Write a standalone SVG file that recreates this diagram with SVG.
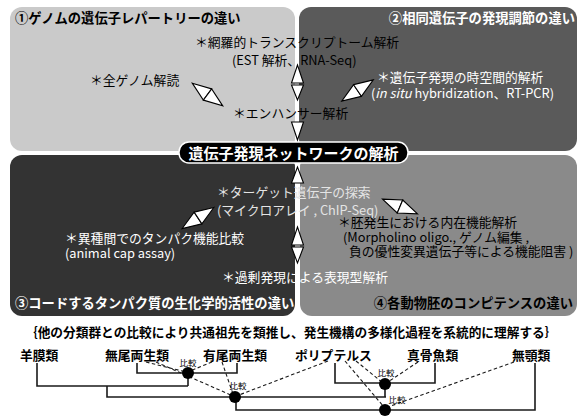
<svg xmlns="http://www.w3.org/2000/svg" width="582" height="416" viewBox="0 0 582 416">
<style>
.t{font-family:"Noto Sans CJK JP","Noto Sans",sans-serif;font-size:12.8px}
.b{font-weight:bold;font-size:13.3px}
.w{fill:#ffffff}
.lt{fill:#e4e4e4}
.k{fill:#000000}
.tri{fill:#ffffff;stroke:#000000;stroke-width:1.1;stroke-linejoin:miter}
.tree{stroke:#1a1a1a;stroke-width:1.6;fill:none}
.dash{stroke:#1a1a1a;stroke-width:1.1;stroke-dasharray:3.5 2.5;fill:none}
.sm{font-family:"Noto Sans CJK JP","Noto Sans",sans-serif;font-size:8.5px;fill:#000}
</style>
<defs>
<g id="dbl">
<polygon class="tri" points="-19,0 0,-7 0,7"/>
<polygon class="tri" points="19,0 0,-7 0,7"/>
</g>
</defs>
<rect width="582" height="416" fill="#ffffff"/>

<g id="panel2">
<rect x="299" y="7" width="278" height="144" rx="12" fill="#5a5a5a"/>
<text class="t b w" x="575" y="23" text-anchor="end">②相同遺伝子の発現調節の違い</text>
<text class="t w" x="377" y="82">＊遺伝子発現の時空間的解析</text>
<text class="t w" x="371" y="98">(<tspan font-style="italic">in situ</tspan> hybridization、RT-PCR)</text>
</g>

<g id="panel1">
<rect x="10" y="7" width="285" height="144" rx="12" fill="#cacaca"/>
<text class="t b k" x="15" y="23">①ゲノムの遺伝子レパートリーの違い</text>
<text class="t k" x="195" y="47">＊網羅的トランスクリプトーム解析</text>
<text class="t k" x="232" y="65">(EST 解析、RNA-Seq)</text>
<text class="t k" x="90" y="85">＊全ゲノム解読</text>
<text class="t k" x="233" y="118">＊エンハンサー解析</text>
</g>

<g id="panel4">
<rect x="300" y="155" width="277" height="161" rx="12" fill="#8a8a8a"/>
<text class="t b k" x="573" y="308" text-anchor="end">④各動物胚のコンピテンスの違い</text>
<text class="t k" x="338" y="227">＊胚発生における内在機能解析</text>
<text class="t k" x="343" y="242">(Morpholino oligo., ゲノム編集 ,</text>
<text class="t k" x="349" y="256">負の優性変異遺伝子等による機能阻害 )</text>
</g>

<g id="panel3">
<rect x="10" y="155" width="285" height="161" rx="12" fill="#333333"/>
<text class="t b w" x="15" y="308">③コードするタンパク質の生化学的活性の違い</text>
<text class="t w" x="65" y="243">＊異種間でのタンパク機能比較</text>
<text class="t w" x="65" y="258">(animal cap assay)</text>
</g>

<g id="shared-texts">
<text class="t lt" x="217" y="197">＊ターゲット遺伝子の探索</text>
<text class="t lt" x="217" y="215">(マイクロアレイ , ChIP-Seq)</text>
<text class="t w" x="222" y="282">＊過剰発現による表現型解析</text>
</g>

<g id="banner">
<rect x="179" y="142" width="229" height="21" rx="10" fill="#000000" stroke="#ffffff" stroke-width="1.5"/>
<text class="t b w" x="293.5" y="159" text-anchor="middle" style="font-size:15px">遺伝子発現ネットワークの解析</text>
</g>

<g id="arrows">
<use href="#dbl" transform="translate(207.5,94.5) rotate(36.6)"/>
<use href="#dbl" transform="translate(357.5,90.5) rotate(-34)"/>
<use href="#dbl" transform="translate(198,218) rotate(-33.7)"/>
<use href="#dbl" transform="translate(400,206.5) rotate(23)"/>
<polygon class="tri" points="297.5,65 291.5,83 303.5,83"/>
<polygon class="tri" points="297.5,100 291.5,85 303.5,85"/>
<polygon class="tri" points="297.5,140 291.5,122 303.5,122"/>
<polygon class="tri" points="297.5,167 291.5,183 303.5,183"/>
<polygon class="tri" points="297.5,227 291.5,245 303.5,245"/>
<polygon class="tri" points="297.5,263 291.5,247 303.5,247"/>
</g>

<text class="t b k" x="25" y="337" style="font-size:12.7px">｛他の分類群との比較により共通祖先を類推し、発生機構の多様化過程を系統的に理解する｝</text>

<g id="taxa">
<text id="amniota" class="t b k" x="20" y="360" style="font-size:12.8px">羊膜類</text>
<text id="anura" class="t b k" x="105" y="360" style="font-size:12.8px">無尾両生類</text>
<text id="urodela" class="t b k" x="203" y="360" style="font-size:12.8px">有尾両生類</text>
<text id="polypterus" class="t b k" x="295" y="360" style="font-size:12.8px">ポリプテルス</text>
<text id="teleostei" class="t b k" x="407" y="360" style="font-size:12.8px">真骨魚類</text>
<text id="agnatha" class="t b k" x="512" y="360" style="font-size:12.8px">無顎類</text>
</g>

<g id="connectors">
<path class="tree" d="M37,363 V386 H188 M137,363 V373 H237 V363 M188,373 V386 M107,386 V397 H386 M335,363 V383 H435 V363 M385,383 V397 M236,397 V410 H535 V363"/>
<path class="dash" d="M146,362 L186,372 M212,362 L190,371 M156,362 L233,396 M222,362 L233,394 M328,361 L239,395 M356,361 L383,383 M418,362 L388,382 M345,361 L384,407 M514,362 L388,407"/>
</g>

<g id="tree-nodes">
<g id="node1"><circle cx="188" cy="373" r="6" fill="#000"/><text class="sm" x="188" y="366" text-anchor="middle">比較</text></g>
<g id="node2"><circle cx="235" cy="397" r="6" fill="#000"/><text class="sm" x="238" y="389" text-anchor="middle">比較</text></g>
<g id="node3"><circle cx="385" cy="384" r="6" fill="#000"/><text class="sm" x="386" y="376" text-anchor="middle">比較</text></g>
<g id="node4"><circle cx="385" cy="410" r="6" fill="#000"/><text class="sm" x="397" y="403" text-anchor="middle">比較</text></g>
</g>
</svg>
